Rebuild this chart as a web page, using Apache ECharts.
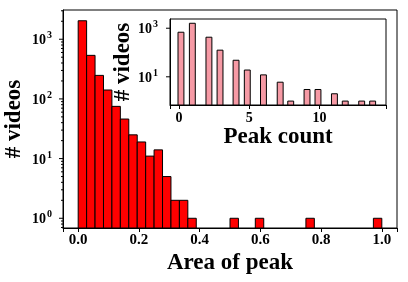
<!DOCTYPE html>
<html><head><meta charset="utf-8">
<script src="https://cdn.jsdelivr.net/npm/echarts@6/dist/echarts.min.js"></script>
<style>html,body{margin:0;padding:0;background:#fff}#c{width:408px;height:282px}</style>
</head><body><div id="c"></div>
<script>
// ---- data ----
const areaRange = [0, 1];
const areaBinCount = 36;
const areaCounts = [2040,537,248,141,75,46,25,19,11,14,5,2,2,1,0,0,0,0,1,0,0,1,0,0,0,0,0,1,0,0,0,0,0,0,0,1];
const areaTickLabels = ['0.0','0.2','0.4','0.6','0.8','1.0'];
const peakCounts = [0,1,2,3,4,5,6,7,8,9,10,11,12,13,14];
const peakBinCenters = [0.14,0.95,2.13,2.92,4.06,4.86,6.01,7.2,7.95,9.11,9.89,11.06,11.83,13.0,13.78];
const peakVideos = [685,1600,427,125,48,19,12,6,1,3,3,2,1,1,1];
const peakTickLabels = ['0','5','10'];
const mainYMajor = [1,10,100,1000];
const mainYMinor = [0.7,0.8,0.9,2,3,4,5,6,7,8,9,20,30,40,50,60,70,80,90,200,300,400,500,600,700,800,900,2000,3000];
const insetYMajor = [10,1000];

// ---- styles ----
const FONT = "'Liberation Serif','Times New Roman',serif";
const mainX = {min:-0.05, max:1.05};
const mainY = {min:0.687, max:3090};
const insX = {min:-0.64, max:14.73};
const insY = {min:0.69, max:2400};

const binW = (areaRange[1]-areaRange[0])/areaBinCount;
const areaData = [];
areaCounts.forEach((c,i)=>{ if(c>0) areaData.push([areaRange[0]+i*binW, areaRange[0]+(i+1)*binW, c]); });
const peakData = peakBinCenters.map((x,i)=>[x, peakVideos[i], peakCounts[i]]);

function supFmt(v){
  const e = Math.log10(v);
  if (Math.abs(e-Math.round(e))>1e-6) return '';
  return '{b|10}{s|'+Math.round(e)+'}';
}
function richLab(size){
  return {
    b:{fontSize:size, fontWeight:'bold', fontFamily:FONT, color:'#000', verticalAlign:'bottom', lineHeight:size},
    s:{fontSize:Math.round(size*0.68), fontWeight:'bold', fontFamily:FONT, color:'#000', verticalAlign:'bottom', padding:[0,0,Math.round(size*0.5),1]}
  };
}
function tickSeries(gi, xmin, vals, len){
  return {
    type:'custom', xAxisIndex:gi, yAxisIndex:gi, clip:false, silent:true, z:5,
    data: vals.map(v=>[xmin, v]),
    renderItem:(p, api)=>{
      const pt = api.coord([api.value(0), api.value(1)]);
      return {type:'line', shape:{x1:pt[0]-len, y1:pt[1], x2:pt[0], y2:pt[1]}, style:{stroke:'#000', lineWidth:1}};
    }
  };
}
const axisLineStyle = {show:true, onZero:false, lineStyle:{color:'#000', width:1}};

const chart = echarts.init(document.getElementById('c'), null, {renderer:'canvas'});
chart.setOption({
  animation:false,
  backgroundColor:'#fff',
  grid:[
    {left:63, right:11, top:10, bottom:54, containLabel:false, outerBoundsMode:'none', show:true, borderColor:'#000', borderWidth:1, backgroundColor:'transparent'},
    {left:170, right:22, top:19, bottom:177, containLabel:false, outerBoundsMode:'none', show:true, borderColor:'#000', borderWidth:1, backgroundColor:'#fff', z:3}
  ],
  xAxis:[
    {type:'value', gridIndex:0, min:mainX.min, max:mainX.max, splitNumber:5, nameMoveOverlap:false,
     axisLine:axisLineStyle, axisTick:{show:true, length:4, lineStyle:{color:'#000'}}, splitLine:{show:false},
     axisLabel:{margin:5, fontSize:15, fontWeight:'bold', fontFamily:FONT, color:'#000',
       formatter:v=>{ const i=Math.round(v/0.2); return Math.abs(v-i*0.2)<1e-6 && areaTickLabels[i]!==undefined ? areaTickLabels[i] : ''; }},
     name:'Area of peak', nameLocation:'middle', nameGap:24,
     nameTextStyle:{fontSize:23, fontWeight:'bold', fontFamily:FONT, color:'#000'}},
    {type:'value', gridIndex:1, min:insX.min, max:insX.max, splitNumber:3, z:10, nameMoveOverlap:false,
     axisLine:axisLineStyle, axisTick:{show:true, length:4, lineStyle:{color:'#000'}}, splitLine:{show:false},
     axisLabel:{margin:6, fontSize:14, fontWeight:'bold', fontFamily:FONT, color:'#000',
       formatter:v=>{ const i=Math.round(v/5); return Math.abs(v-i*5)<1e-6 && peakTickLabels[i]!==undefined ? peakTickLabels[i] : ''; }},
     name:'Peak count', nameLocation:'middle', nameGap:21,
     nameTextStyle:{fontSize:23, fontWeight:'bold', fontFamily:FONT, color:'#000'}}
  ],
  yAxis:[
    {type:'log', logBase:10, gridIndex:0, min:mainY.min, max:mainY.max, nameMoveOverlap:false,
     axisLine:axisLineStyle, axisTick:{show:false}, splitLine:{show:false},
     axisLabel:{margin:11, formatter:supFmt, rich:richLab(14)},
     name:'# videos', nameLocation:'middle', nameRotate:90, nameGap:37,
     nameTextStyle:{fontSize:23, fontWeight:'bold', fontFamily:FONT, color:'#000'}},
    {type:'log', logBase:10, gridIndex:1, min:insY.min, max:insY.max, z:10, nameMoveOverlap:false,
     axisLine:axisLineStyle, axisTick:{show:false}, splitLine:{show:false},
     axisLabel:{margin:12, formatter:v=>{ const e=Math.round(Math.log10(v)); return (e%2===1)? supFmt(v):''; }, rich:richLab(14)},
     name:'# videos', nameLocation:'middle', nameRotate:90, nameGap:35,
     nameTextStyle:{fontSize:23, fontWeight:'bold', fontFamily:FONT, color:'#000'}}
  ],
  series:[
    {type:'custom', xAxisIndex:0, yAxisIndex:0, z:2, data:areaData,
     renderItem:(p, api)=>{
       const a = api.coord([api.value(0), api.value(2)]);
       const b = api.coord([api.value(1), mainY.min]);
       return {type:'rect', shape:{x:a[0], y:a[1], width:b[0]-a[0], height:b[1]-a[1]},
               style:{fill:'#ff0000', stroke:'#000', lineWidth:1}};
     }},
    tickSeries(0, mainX.min, mainYMajor, 4),
    tickSeries(0, mainX.min, mainYMinor, 2),
    {type:'custom', xAxisIndex:1, yAxisIndex:1, z:6, data:peakData,
     renderItem:(p, api)=>{
       const x = api.value(0);
       const a = api.coord([x-0.21, api.value(1)]);
       const b = api.coord([x+0.21, insY.min]);
       return {type:'rect', shape:{x:a[0], y:a[1], width:b[0]-a[0], height:b[1]-a[1]},
               style:{fill:'#f69aa5', stroke:'#000', lineWidth:1}};
     }},
    tickSeries(1, insX.min, insetYMajor, 4)
  ]
});
</script></body></html>
